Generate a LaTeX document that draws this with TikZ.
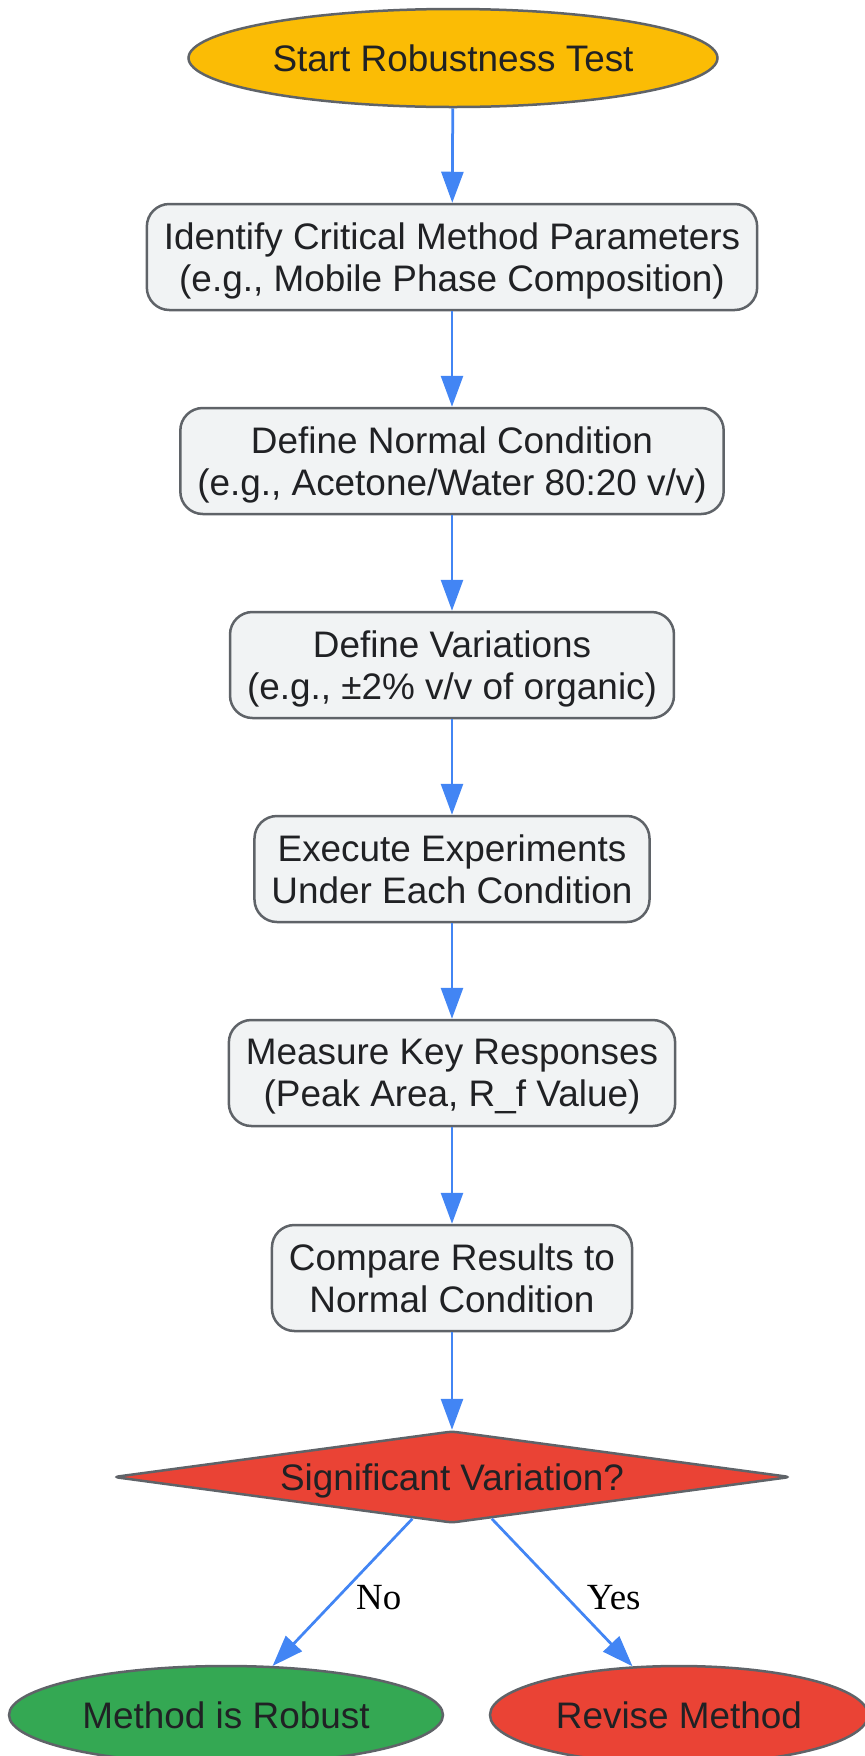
\documentclass[tikz,border=0pt]{standalone}
\usepackage{fontspec}
\setmainfont{Liberation Sans}
\newfontfamily\lblfont{Liberation Serif}
\usetikzlibrary{shapes.geometric, arrows.meta}

\definecolor{flowblue}{HTML}{4285F4}
\definecolor{bordergray}{HTML}{5F6368}
\definecolor{boxgray}{HTML}{F1F3F4}
\definecolor{textdark}{HTML}{202124}
\definecolor{startyellow}{HTML}{FBBC05}
\definecolor{decred}{HTML}{EA4335}
\definecolor{okgreen}{HTML}{34A853}

\tikzset{
  base/.style={draw=bordergray, line width=0.05cm, text=textdark,
    font=\fontsize{21}{23.6}\selectfont, align=center, text depth=0pt},
  procbox/.style={base, rectangle, rounded corners=0.45cm, fill=boxgray,
    minimum height=2.12cm, inner xsep=0.34cm},
  term/.style={base, ellipse, minimum height=1.96cm},
  decision/.style={base, diamond, aspect=7.36, fill=decred, rounded corners=0.1cm,
    minimum width=13.54cm, minimum height=1.84cm, inner sep=0pt},
  flow/.style={-{Triangle[length=0.62cm,width=0.44cm]}, draw=flowblue, line width=0.055cm},
  edgelbl/.style={font=\lblfont\fontsize{21}{24}\selectfont, text=black, yshift=-0.11cm}
}

\begin{document}
\begin{tikzpicture}
    \useasboundingbox (0,0) rectangle (17.28,-35.12);

    \node[term, fill=startyellow, minimum width=10.58cm] (start) at (9.06,-1.16) {Start Robustness Test};

    \node[procbox] (ident) at (9.04,-5.14) {Identify Critical Method Parameters\\(e.g., Mobile Phase Composition)};
    \node[procbox] (normal) at (9.04,-9.22) {Define Normal Condition\\(e.g., Acetone/Water 80:20 v/v)};
    \node[procbox] (vary) at (9.04,-13.3) {Define Variations\\(e.g., ±2\% v/v of organic)};
    \node[procbox] (exec) at (9.04,-17.38) {Execute Experiments\\Under Each Condition};
    \node[procbox] (measure) at (9.04,-21.46) {Measure Key Responses\\(Peak Area, R\_f Value)};
    \node[procbox] (compare) at (9.04,-25.56) {Compare Results to\\Normal Condition};

    \node[decision] (signif) at (9.04,-29.54) {Significant Variation?};

    \node[term, fill=okgreen, minimum width=8.68cm] (robust) at (4.52,-34.3) {Method is Robust};
    \node[term, fill=decred, minimum width=7.56cm] (revise) at (13.58,-34.3) {Revise Method};

    \draw[flow] (start) -- (ident);
    \draw[flow] (ident) -- (normal);
    \draw[flow] (normal) -- (vary);
    \draw[flow] (vary) -- (exec);
    \draw[flow] (exec) -- (measure);
    \draw[flow] (measure) -- (compare);
    \draw[flow] (compare) -- (signif);

    \draw[flow] (signif) -- (robust) node[edgelbl, midway, right=0.13cm] {No};
    \draw[flow] (signif) -- (revise) node[edgelbl, midway, right=0.35cm] {Yes};
\end{tikzpicture}
\end{document}
